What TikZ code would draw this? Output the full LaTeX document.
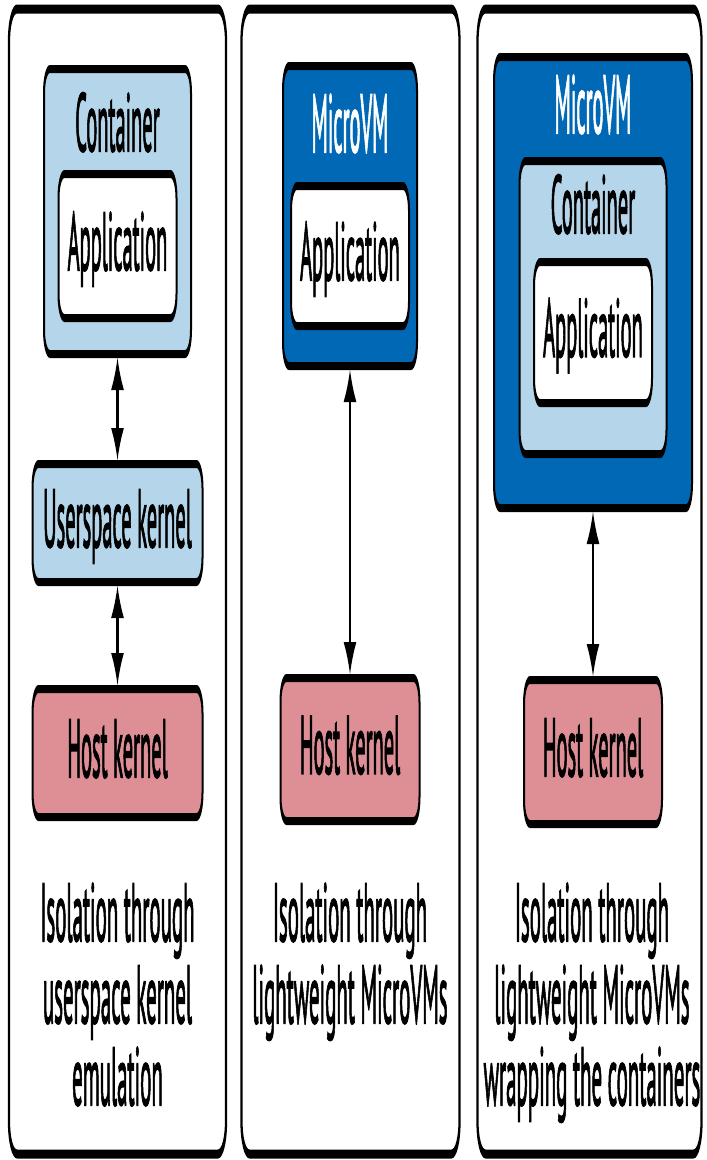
\documentclass[tikz,border=0pt]{standalone}
\usepackage{fontspec}
\newfontfamily\ptsans[FakeBold=2.5]{PT Sans}
\newfontfamily\ptsanscap[FakeBold=2.5,FakeStretch=1.02]{PT Sans}
\usetikzlibrary{arrows.meta}
\definecolor{lightblue}{RGB}{180,213,234}
\definecolor{darkblue}{RGB}{0,104,180}
\definecolor{hostpink}{RGB}{222,143,150}
\tikzset{
  txt/.style={font=\ptsans\fontsize{82pt}{82pt}\selectfont, inner sep=0pt},
  boxbase/.style={draw=black, line width=8pt, rounded corners=24pt, inner sep=0pt},
  panel/.style={draw=black, line width=9pt, rounded corners=32pt, fill=white, inner sep=0pt},
  lbox/.style={boxbase, fill=lightblue},
  dbox/.style={boxbase, fill=darkblue},
  wbox/.style={boxbase, fill=white},
  hbox/.style={boxbase, fill=hostpink},
  boxtext/.style={txt, text height=48pt, text depth=0pt},
  lbl/.style={txt, anchor=base},
  captext/.style={txt, font=\ptsanscap\fontsize{82pt}{82pt}\selectfont, align=center, anchor=base},
  link/.style={line width=9pt, {Latex[length=32pt,width=54pt]}-{Latex[length=32pt,width=54pt]}}
}
\begin{document}
\begin{tikzpicture}
\useasboundingbox (0pt,0pt) rectangle (707pt,-1160pt);
\begin{scope}[x=4pt, y=-1pt, transform canvas={xscale=0.25}]
  % panels
  \node[panel, minimum width=868pt, minimum height=1145pt] (p1) at (117.5,581.5) {};
  \node[panel, minimum width=872pt, minimum height=1145pt] (p2) at (350.5,581.5) {};
  \node[panel, minimum width=896pt, minimum height=1145pt] (p3) at (589.5,581.5) {};

  % panel 1
  \node[lbox, minimum width=588pt, minimum height=285pt] (c1) at (117.5,211.5) {};
  \node[lbl] (c1t) at (117.5,151) {Container};
  \node[wbox, boxtext, minimum width=472pt, minimum height=144pt] (a1) at (117.5,246) {Application};
  \node[lbox, boxtext, minimum width=680pt, minimum height=118pt] (u1) at (117.5,523) {Userspace kernel};
  \node[hbox, boxtext, minimum width=680pt, minimum height=128pt] (h1) at (117.5,753) {Host kernel};
  \draw[link] (c1.south) -- (u1.north);
  \draw[link] (u1.south) -- (h1.north);
  \node[captext] (cap1) at (117.5,1105) {Isolation through\\userspace kernel\\emulation};

  % panel 2
  \node[dbox, minimum width=536pt, minimum height=300pt] (m2) at (350,216) {};
  \node[lbl, text=white] (m2t) at (350,152) {MicroVM};
  \node[wbox, boxtext, minimum width=472pt, minimum height=140pt] (a2) at (350,256) {Application};
  \node[hbox, boxtext, minimum width=556pt, minimum height=143pt] (h2) at (350,749.5) {Host kernel};
  \draw[link] (m2.south) -- (h2.north);
  \node[captext] (cap2) at (350,1023) {Isolation through\\lightweight MicroVMs};

  % panel 3
  \node[dbox, minimum width=792pt, minimum height=451pt] (m3) at (593,282.5) {};
  \node[lbl, text=white] (m3t) at (593,133) {MicroVM};
  \node[lbox, minimum width=588pt, minimum height=293pt] (c3) at (593,307.5) {};
  \node[lbl] (c3t) at (593,233) {Container};
  \node[wbox, boxtext, minimum width=472pt, minimum height=141pt] (a3) at (593,332.5) {Application};
  \node[hbox, boxtext, minimum width=552pt, minimum height=144pt] (h3) at (593,752) {Host kernel};
  \draw[link] (m3.south) -- (h3.north);
  \node[captext] (cap3) at (592,1105) {Isolation through\\lightweight MicroVMs\\wrapping the containers};
\end{scope}
\end{tikzpicture}
\end{document}
